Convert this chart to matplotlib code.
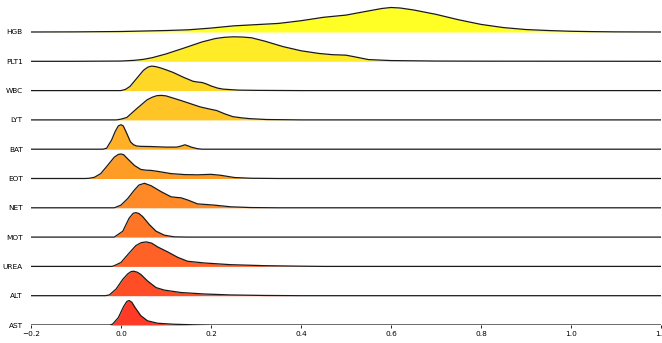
import matplotlib
matplotlib.use("Agg")
import matplotlib.pyplot as plt
import numpy as np

labels = ["HGB", "PLT1", "WBC", "LYT", "BAT", "EOT", "NET", "MOT", "UREA", "ALT", "AST"]

# relative density (peak = 1)
hgb_x = [-0.2, -0.1, 0.0, 0.05, 0.1, 0.15, 0.2, 0.25, 0.3, 0.35, 0.4, 0.45, 0.5, 0.55, 0.58, 0.6, 0.62,
         0.65, 0.7, 0.75, 0.8, 0.85, 0.9, 0.95, 1.0, 1.05, 1.1, 1.2]
hgb_y = [0.0, 0.005, 0.02, 0.04, 0.06, 0.09, 0.16, 0.25, 0.3, 0.35, 0.46, 0.6, 0.69, 0.86, 0.96, 1.0, 0.98,
         0.9, 0.72, 0.5, 0.31, 0.18, 0.1, 0.06, 0.03, 0.015, 0.005, 0.0]

plt1_x = [-0.2, -0.1, 0.0, 0.03, 0.05, 0.07, 0.1, 0.14, 0.18, 0.21, 0.23, 0.25, 0.27, 0.29, 0.32, 0.36,
          0.4, 0.44, 0.47, 0.5, 0.52, 0.55, 0.6, 0.7, 0.8, 1.2]
plt1_y = [0.0, 0.0, 0.01, 0.04, 0.08, 0.15, 0.3, 0.54, 0.79, 0.93, 0.98, 1.0, 0.99, 0.96, 0.82, 0.6,
          0.43, 0.32, 0.27, 0.25, 0.18, 0.07, 0.03, 0.01, 0.005, 0.0]

wbc_x = [-0.2, 0.0, 0.01, 0.02, 0.035, 0.05, 0.06, 0.068, 0.077, 0.087, 0.1, 0.116, 0.138, 0.16, 0.17,
         0.18, 0.19, 0.2, 0.215, 0.227, 0.26, 0.3, 0.4, 1.2]
wbc_y = [0.0, 0.0, 0.05, 0.17, 0.5, 0.83, 0.96, 1.0, 0.98, 0.93, 0.85, 0.74, 0.55, 0.38, 0.35, 0.33,
         0.27, 0.19, 0.1, 0.06, 0.02, 0.01, 0.0, 0.0]

lyt_x = [-0.2, -0.01, 0.0, 0.013, 0.035, 0.058, 0.07, 0.08, 0.09, 0.1, 0.116, 0.135, 0.153, 0.176,
         0.195, 0.213, 0.23, 0.249, 0.27, 0.287, 0.324, 0.4, 1.2]
lyt_y = [0.0, 0.0, 0.03, 0.1, 0.46, 0.82, 0.93, 0.99, 1.0, 0.98, 0.89, 0.78, 0.67, 0.53, 0.45, 0.38,
         0.25, 0.13, 0.08, 0.05, 0.015, 0.0, 0.0]

bat_x = [-0.2, -0.04, -0.032, -0.021, -0.013, -0.006, 0.0, 0.005, 0.011, 0.021, 0.028, 0.035, 0.045,
         0.064, 0.1, 0.124, 0.134, 0.142, 0.15, 0.157, 0.17, 0.18, 1.2]
bat_y = [0.0, 0.0, 0.04, 0.37, 0.72, 0.95, 1.0, 0.95, 0.72, 0.3, 0.18, 0.13, 0.115, 0.11, 0.085, 0.085,
         0.13, 0.18, 0.13, 0.08, 0.02, 0.0, 0.0]

eot_x = [-0.2, -0.08, -0.07, -0.059, -0.045, -0.03, -0.015, -0.006, 0.0, 0.006, 0.015, 0.03, 0.044,
         0.055, 0.067, 0.082, 0.111, 0.141, 0.17, 0.2, 0.222, 0.252, 0.289, 0.35, 1.2]
eot_y = [0.0, 0.0, 0.01, 0.05, 0.2, 0.53, 0.87, 0.98, 1.0, 0.97, 0.8, 0.53, 0.37, 0.34, 0.33, 0.29,
         0.2, 0.16, 0.15, 0.17, 0.13, 0.04, 0.01, 0.0, 0.0]

net_x = [-0.2, -0.015, 0.0, 0.015, 0.03, 0.04, 0.052, 0.067, 0.089, 0.111, 0.125, 0.133, 0.148, 0.17,
         0.207, 0.244, 0.289, 0.35, 1.2]
net_y = [0.0, 0.0, 0.11, 0.38, 0.73, 0.93, 1.0, 0.9, 0.66, 0.45, 0.42, 0.41, 0.32, 0.16, 0.11, 0.04,
         0.01, 0.0, 0.0]

mot_x = [-0.2, -0.015, 0.004, 0.018, 0.027, 0.033, 0.04, 0.048, 0.063, 0.078, 0.096, 0.118, 0.15, 1.2]
mot_y = [0.0, 0.0, 0.24, 0.77, 0.97, 1.0, 0.96, 0.84, 0.51, 0.24, 0.08, 0.01, 0.0, 0.0]

urea_x = [-0.2, -0.02, -0.015, 0.0, 0.015, 0.033, 0.045, 0.056, 0.068, 0.082, 0.104, 0.126, 0.148,
          0.185, 0.244, 0.318, 0.393, 0.45, 1.2]
urea_y = [0.0, 0.0, 0.03, 0.16, 0.48, 0.85, 0.97, 1.0, 0.95, 0.79, 0.59, 0.37, 0.21, 0.14, 0.07, 0.03,
          0.01, 0.0, 0.0]

alt_x = [-0.2, -0.035, -0.026, -0.011, 0.004, 0.015, 0.022, 0.028, 0.036, 0.044, 0.059, 0.078, 0.096,
         0.133, 0.185, 0.244, 0.318, 0.4, 1.2]
alt_y = [0.0, 0.0, 0.03, 0.27, 0.67, 0.89, 0.98, 1.0, 0.96, 0.87, 0.6, 0.33, 0.23, 0.13, 0.07, 0.03,
         0.01, 0.0, 0.0]

ast_x = [-0.2, -0.025, -0.019, -0.006, 0.006, 0.013, 0.018, 0.024, 0.031, 0.044, 0.059, 0.082, 0.118,
         0.16, 0.2, 1.2]
ast_y = [0.0, 0.0, 0.03, 0.3, 0.76, 0.96, 1.0, 0.93, 0.72, 0.38, 0.17, 0.07, 0.03, 0.01, 0.0, 0.0]

series_x = [hgb_x, plt1_x, wbc_x, lyt_x, bat_x, eot_x, net_x, mot_x, urea_x, alt_x, ast_x]
series_y = [hgb_y, plt1_y, wbc_y, lyt_y, bat_y, eot_y, net_y, mot_y, urea_y, alt_y, ast_y]

xticks = [-0.2, 0.0, 0.2, 0.4, 0.6, 0.8, 1.0, 1.2]

W, H = 662, 343
top_base_px, bot_base_px = 32, 325
step_px = (bot_base_px - top_base_px) / 10
scale = 24.5 / step_px

fig = plt.figure(figsize=(W / 100, H / 100), dpi=100)
ax = fig.add_axes([31 / W, 1 - bot_base_px / H, 630 / W, bot_base_px / H])
ax.set_xlim(-0.2, 1.2)
ax.set_ylim(0, bot_base_px / step_px)

n = len(labels)
cmap = plt.cm.autumn_r
bases = []
for i in range(n):
    base = n - 1 - i
    bases.append(base)
    xs = np.array(series_x[i])
    ys = base + np.array(series_y[i]) * scale
    ax.fill_between(xs, base, ys, color=cmap(i / n), alpha=0.85, lw=0, zorder=2 * i + 1)
    ax.plot(xs, ys, color="#1a1a1a", lw=0.9, zorder=2 * i + 2,
            solid_joinstyle="round", solid_capstyle="round")

for s in ax.spines.values():
    s.set_visible(False)

ax.set_yticks(bases)
ax.set_yticklabels(labels, fontsize=5.3)
ax.tick_params(axis="y", length=0, pad=6)
ax.set_xticks(xticks)
ax.set_xticklabels([f"{t:.1f}".replace("-", "\u2212") for t in xticks], fontsize=5.3)
ax.tick_params(axis="x", length=2.5, width=0.6, pad=2)

fig.savefig("out.png", dpi=100)
